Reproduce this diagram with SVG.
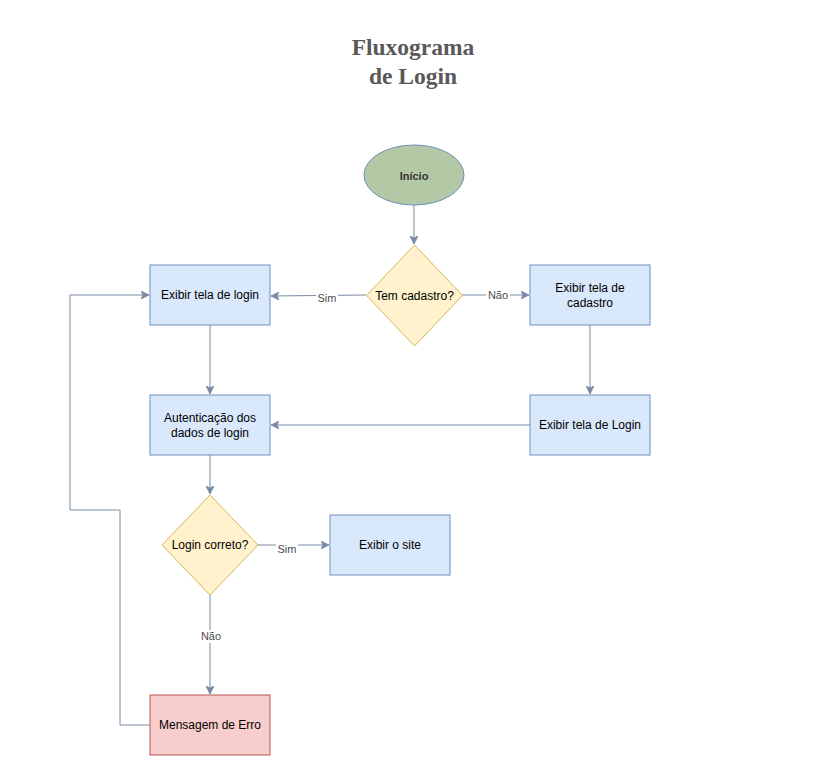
<svg xmlns="http://www.w3.org/2000/svg" width="827" height="783" viewBox="0 0 827 783">
<style>
.title{font-family:"Liberation Serif",serif;font-weight:bold;font-size:23.5px;fill:#595959;text-anchor:middle}
.box{fill:#dae8fc;stroke:#6c8ebf;stroke-width:1}
.dia{fill:#fff2cc;stroke:#d6b656;stroke-width:1}
.err{fill:#f8cecc;stroke:#b85450;stroke-width:1}
.t{font-family:"Liberation Sans",Arial,sans-serif;font-size:12px;fill:#000;text-anchor:middle;dominant-baseline:central}
.e{fill:none;stroke:#788aa3;stroke-width:1}
.lbl{font-family:"Liberation Sans",Arial,sans-serif;font-size:11px;fill:#4d4d4d;text-anchor:middle;dominant-baseline:central}
.lbg{fill:#ffffff}
</style>
<defs>
<marker id="arr" viewBox="0 0 10 10" refX="10" refY="5" markerWidth="8" markerHeight="8" markerUnits="userSpaceOnUse" orient="auto">
<path d="M0,0 L10,5 L0,10 L2.5,5 Z" fill="#788aa3" stroke="#788aa3"/>
</marker>
</defs>
<rect width="827" height="783" fill="#ffffff"/>
<text class="title" x="413" y="55">Fluxograma</text>
<text class="title" x="413" y="84">de Login</text>

<g id="connectors">
<path class="e" d="M414,205 L414,244" marker-end="url(#arr)"/>
<path class="e" d="M366,295 L271,296" marker-end="url(#arr)"/>
<path class="e" d="M462,295 L529,295" marker-end="url(#arr)"/>
<path class="e" d="M210,325 L210,394" marker-end="url(#arr)"/>
<path class="e" d="M590,325 L590,394" marker-end="url(#arr)"/>
<path class="e" d="M530,425 L271,425" marker-end="url(#arr)"/>
<path class="e" d="M210,455 L210,494" marker-end="url(#arr)"/>
<path class="e" d="M258,545 L329,545" marker-end="url(#arr)"/>
<path class="e" d="M210,595 L210,694" marker-end="url(#arr)"/>
<path class="e" d="M150,725 L120,725 L120,510 L70,510 L70,295 L149,295" marker-end="url(#arr)"/>
<rect class="lbg" x="316" y="291" width="22" height="13"/>
<text class="lbl" x="327" y="298">Sim</text>
<rect class="lbg" x="486" y="289" width="24" height="13"/>
<text class="lbl" x="498" y="295">Não</text>
<rect class="lbg" x="276" y="542" width="22" height="13"/>
<text class="lbl" x="287" y="549">Sim</text>
<rect class="lbg" x="199" y="630" width="24" height="13"/>
<text class="lbl" x="211" y="636">Não</text>
</g>

<g id="inicio">
<ellipse cx="414" cy="175" rx="50" ry="30" fill="#b3c9a5" stroke="#6c8ebf"/>
<text class="t" x="414" y="176" style="font-size:11px;font-weight:bold;fill:#333333">Início</text>
</g>
<g id="tem-cadastro">
<polygon class="dia" points="414.5,245 462.5,295.5 414.5,346 366.5,295.5"/>
<text class="t" x="414.5" y="295.5">Tem cadastro?</text>
</g>
<g id="exibir-tela-login">
<rect class="box" x="150" y="265" width="120" height="60"/>
<text class="t" x="210" y="295">Exibir tela de login</text>
</g>
<g id="exibir-tela-cadastro">
<rect class="box" x="530" y="265" width="120" height="60"/>
<text class="t" x="590" y="288">Exibir tela de</text>
<text class="t" x="590" y="303">cadastro</text>
</g>
<g id="autenticacao">
<rect class="box" x="150" y="395" width="120" height="60"/>
<text class="t" x="210" y="418">Autenticação dos</text>
<text class="t" x="210" y="433">dados de login</text>
</g>
<g id="exibir-tela-Login2">
<rect class="box" x="530" y="395" width="120" height="60"/>
<text class="t" x="590" y="425">Exibir tela de Login</text>
</g>
<g id="login-correto">
<polygon class="dia" points="210,495 258,545 210,595 162,545"/>
<text class="t" x="210" y="545">Login correto?</text>
</g>
<g id="exibir-site">
<rect class="box" x="330" y="515" width="120" height="60"/>
<text class="t" x="390" y="545">Exibir o site</text>
</g>
<g id="mensagem-erro">
<rect class="err" x="150" y="695" width="120" height="60"/>
<text class="t" x="210" y="725">Mensagem de Erro</text>
</g>
</svg>
